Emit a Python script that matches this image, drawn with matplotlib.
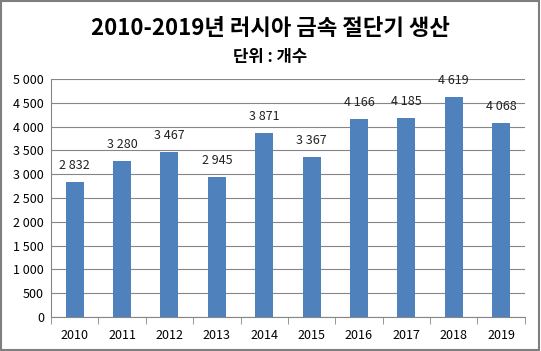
import matplotlib
matplotlib.use('Agg')
import matplotlib.pyplot as plt
from matplotlib.patches import Rectangle

plt.rcParams['font.family'] = ['Noto Sans CJK KR', 'DejaVu Sans']

# data
years = ['2010', '2011', '2012', '2013', '2014', '2015', '2016', '2017', '2018', '2019']
units = [2832, 3280, 3467, 2945, 3871, 3367, 4166, 4185, 4619, 4068]
y_ticks = [0, 500, 1000, 1500, 2000, 2500, 3000, 3500, 4000, 4500, 5000]


def spaced(v):
    return '{:,}'.format(v).replace(',', ' ')


fig = plt.figure(figsize=(5.41, 3.51), dpi=100)
ax = fig.add_axes([0.0943, 0.0969, 0.8757, 0.678])

x = range(len(years))
bars = ax.bar(x, units, width=0.38, color='#4F81BD', zorder=3)
for xi, v in zip(x, units):
    ax.text(xi, v + 210, spaced(v), ha='center', va='bottom', fontsize=9, color='#222222')

ax.set_ylim(0, 5000)
ax.set_xlim(-0.5, len(years) - 0.5)
ax.set_yticks(y_ticks)
ax.set_yticklabels([spaced(t) for t in y_ticks], fontsize=9)
ax.set_xticks(list(x))
ax.set_xticklabels(years, fontsize=9)
ax.set_xticks([i + 0.5 for i in range(-1, len(years))], minor=True)
ax.tick_params(axis='x', which='major', length=0, pad=9)
ax.tick_params(axis='x', which='minor', length=5, color='#868686')
ax.tick_params(axis='y', length=0, pad=5)
ax.grid(axis='y', color='#868686', linewidth=0.8, zorder=0)
for side in ['top', 'right']:
    ax.spines[side].set_visible(False)
ax.spines['left'].set_color('#868686')
ax.spines['bottom'].set_color('#868686')

fig.text(0.5, 0.92, '2010-2019년 러시아 금속 절단기 생산', ha='center', va='center',
         fontsize=16, fontweight='bold')
fig.text(0.5, 0.838, '단위 : 개수', ha='center', va='center', fontsize=12, fontweight='bold')

fig.patches.append(Rectangle((0.002, 0.003), 0.995, 0.993, transform=fig.transFigure,
                             fill=False, edgecolor='#7f7f7f', linewidth=1.5))

fig.savefig('out.png', dpi=100)
